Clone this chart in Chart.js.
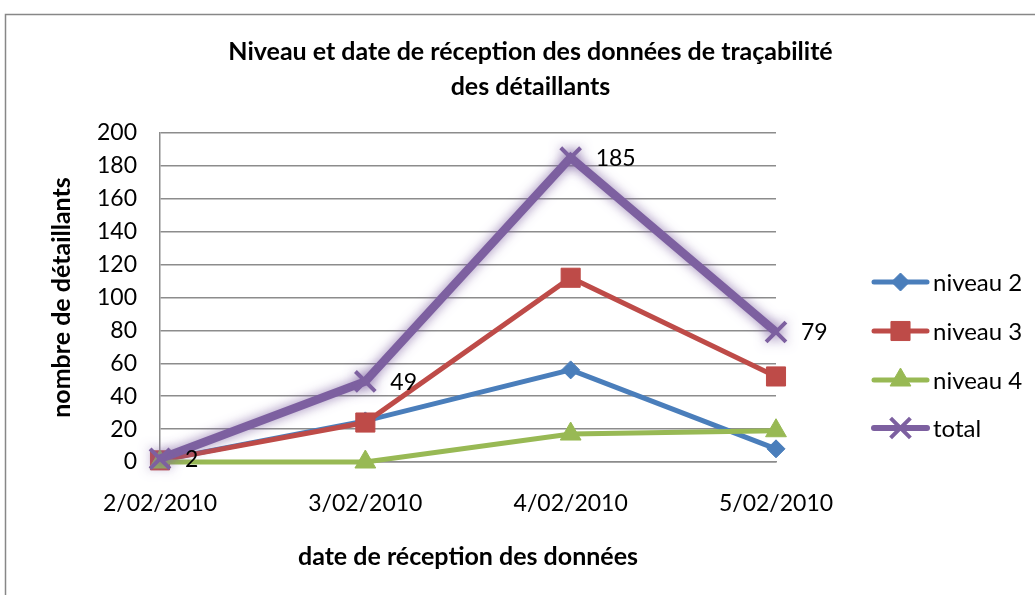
<!DOCTYPE html>
<html><head><meta charset="utf-8">
<script src="https://cdn.jsdelivr.net/npm/chart.js@4/dist/chart.umd.min.js"></script>
<style>html,body{margin:0;padding:0;background:#fff;} #wrap{width:1035px;height:595px;}</style>
</head><body><div id="wrap"><canvas id="c" width="1035" height="595"></canvas></div>
<script>
const chartTitle = ['Niveau et date de réception des données de traçabilité', 'des détaillants'];
const categories = ['2/02/2010', '3/02/2010', '4/02/2010', '5/02/2010'];
const niveau2 = [1, 25, 56, 8];
const niveau3 = [1, 24, 112, 52];
const niveau4 = [0, 0, 17, 19];
const total = [2, 49, 185, 79];
const yMin = 0, yMax = 200, yStep = 20;
const xTitle = 'date de réception des données';
const yTitle = 'nombre de détaillants';
const seriesNames = ['niveau 2', 'niveau 3', 'niveau 4', 'total'];
const seriesColors = ['#4A7EBB', '#BE4B48', '#98B954', '#7D60A0'];

const FONT = 'Lato';
const GRID = '#8c8c8c';

const framePlugin = {
  id: 'frame',
  beforeDraw(chart) {
    const ctx = chart.ctx;
    ctx.save();
    ctx.fillStyle = '#fff';
    ctx.fillRect(0, 0, chart.width, chart.height);
    ctx.strokeStyle = '#878787';
    ctx.lineWidth = 1.5;
    ctx.strokeRect(5.5, 14.5, 1100, 700);
    ctx.restore();
  }
};

const glowPlugin = {
  id: 'glow',
  beforeDatasetDraw(chart, args) {
    if (args.index === 3) {
      const ctx = chart.ctx;
      ctx.save();
      ctx.shadowColor = 'rgba(125,96,160,0.8)';
      ctx.shadowBlur = 12;
    }
  },
  afterDatasetDraw(chart, args) {
    if (args.index === 3) chart.ctx.restore();
  }
};

const labelPlugin = {
  id: 'totLabels',
  afterDatasetsDraw(chart) {
    const ctx = chart.ctx;
    const meta = chart.getDatasetMeta(3);
    ctx.save();
    ctx.font = '23px ' + FONT;
    ctx.fillStyle = '#000';
    ctx.textAlign = 'left';
    ctx.textBaseline = 'middle';
    meta.data.forEach((pt, i) => {
      ctx.fillText(String(total[i]), pt.x + 25, pt.y + 1);
    });
    ctx.restore();
  }
};

function drawMarker(ctx, style, r, bw, x, y) {
  if (Chart.helpers && Chart.helpers.drawPoint) {
    Chart.helpers.drawPoint(ctx, {pointStyle: style, radius: r, rotation: 0, borderWidth: bw}, x, y);
  }
}

const legendPlugin = {
  id: 'customLegend',
  afterDraw(chart) {
    const ctx = chart.ctx;
    const rows = [282, 331, 380, 428];
    ctx.save();
    chart.data.datasets.forEach((ds, i) => {
      const y = rows[i];
      ctx.strokeStyle = ds.borderColor;
      ctx.fillStyle = ds.backgroundColor;
      ctx.lineWidth = i === 3 ? 6 : 5;
      ctx.lineCap = 'round';
      ctx.beginPath();
      ctx.moveTo(874, y);
      ctx.lineTo(927, y);
      ctx.stroke();
      ctx.lineCap = 'butt';
      ctx.lineWidth = ds.pointBorderWidth;
      drawMarker(ctx, ds.pointStyle, ds.pointRadius, ds.pointBorderWidth, 900.5, y);
      ctx.fillStyle = '#000';
      ctx.font = '24px ' + FONT;
      ctx.textAlign = 'left';
      ctx.textBaseline = 'middle';
      ctx.fillText(ds.label, 933, y + 1);
    });
    ctx.restore();
  }
};

function mk(i, data, style, r, bw, lw, order) {
  return {
    label: seriesNames[i], data: data,
    borderColor: seriesColors[i], backgroundColor: seriesColors[i],
    pointBackgroundColor: seriesColors[i], pointBorderColor: seriesColors[i],
    borderWidth: lw, pointStyle: style, pointRadius: r, pointBorderWidth: bw,
    pointHoverRadius: r, tension: 0, order: order, clip: false, fill: false
  };
}

new Chart(document.getElementById('c'), {
  type: 'line',
  data: {
    labels: categories,
    datasets: [
      mk(0, niveau2, 'rectRot', 9, 1, 5, 3),
      mk(1, niveau3, 'rect', 13.5, 1, 5, 2),
      mk(2, niveau4, 'triangle', 12, 1, 5, 1),
      mk(3, total, 'crossRot', 14, 4, 8.5, 0)
    ]
  },
  options: {
    responsive: false,
    animation: false,
    events: [],
    layout: {padding: {left: 26, right: 0, top: 0, bottom: 0}},
    plugins: {
      legend: {display: false},
      tooltip: {enabled: false},
      title: {
        display: true, text: chartTitle, color: '#000',
        font: {family: FONT, size: 25, weight: 'bold', lineHeight: 1.4},
        padding: {top: 34, bottom: 29}
      }
    },
    scales: {
      x: {
        offset: false,
        grid: {display: false},
        border: {display: true, color: GRID, width: 1.5},
        ticks: {font: {family: FONT, size: 23}, color: '#000', padding: 20, maxRotation: 0, autoSkip: false},
        title: {display: true, text: xTitle, color: '#000', font: {family: FONT, size: 25, weight: 'bold'}, padding: {top: 23, bottom: 23}},
        afterFit: s => { s.height = 133; }
      },
      y: {
        min: yMin, max: yMax,
        ticks: {stepSize: yStep, font: {family: FONT, size: 23}, color: '#000', padding: 23},
        grid: {color: GRID, lineWidth: 1.5, drawTicks: false},
        border: {display: true, color: GRID, width: 1.5},
        title: {display: true, text: yTitle, color: '#000', font: {family: FONT, size: 25, weight: 'bold'}, padding: {top: 21, bottom: 21}},
        afterFit: s => { s.width = 134; }
      },
      y2: {
        position: 'right', display: true,
        grid: {display: false}, border: {display: false}, ticks: {display: false},
        afterFit: s => { s.width = 259; }
      }
    }
  },
  plugins: [framePlugin, glowPlugin, labelPlugin, legendPlugin]
});
</script>
</body></html>
